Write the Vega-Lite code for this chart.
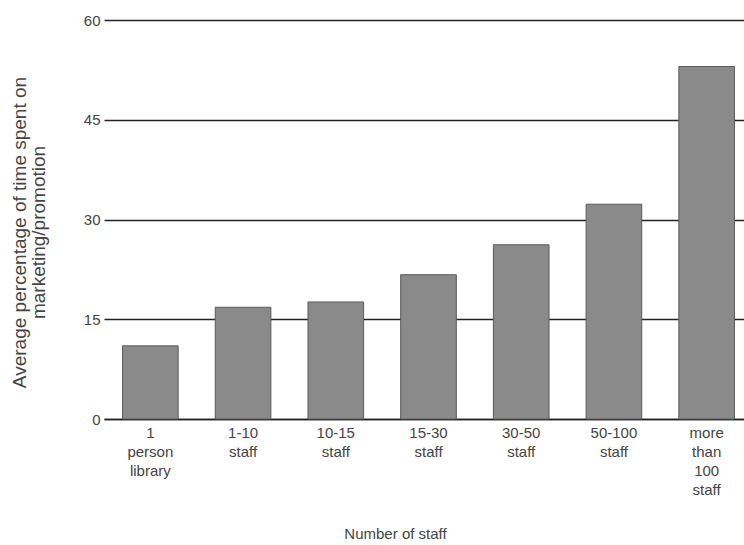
{
  "$schema": "https://vega.github.io/schema/vega-lite/v6.json",
  "autosize": {"type": "none"},
  "padding": {"left": 104, "top": 20, "right": 0, "bottom": 126},
  "width": 649,
  "height": 399,
  "background": "white",
  "data": {
    "values": [
      {"staff": "1|person|library", "pct": 11.0},
      {"staff": "1-10|staff", "pct": 16.8},
      {"staff": "10-15|staff", "pct": 17.6},
      {"staff": "15-30|staff", "pct": 21.7},
      {"staff": "30-50|staff", "pct": 26.2},
      {"staff": "50-100|staff", "pct": 32.3},
      {"staff": "more|than|100|staff", "pct": 53.0}
    ]
  },
  "mark": {"type": "bar", "fill": "#8a8a8a", "stroke": "#5a5a5a", "strokeWidth": 1},
  "encoding": {
    "x": {
      "field": "staff",
      "type": "nominal",
      "sort": null,
      "scale": {"paddingInner": 0.4, "paddingOuter": 0.2},
      "axis": {
        "title": "Number of staff",
        "labelExpr": "split(datum.value, '|')",
        "labelAngle": 0,
        "labelFont": "Liberation Sans",
        "labelFontSize": 15,
        "labelColor": "#444",
        "labelLineHeight": 19,
        "labelPadding": 6,
        "labelBaseline": "top",
        "ticks": false,
        "domainColor": "#222",
        "domainWidth": 1.5,
        "titleFont": "Liberation Sans",
        "titleFontSize": 15,
        "titleFontWeight": "normal",
        "titleColor": "#444",
        "titleX": 291,
        "titleY": 107,
        "titleBaseline": "top",
        "grid": false
      }
    },
    "y": {
      "field": "pct",
      "type": "quantitative",
      "scale": {"domain": [0, 60], "nice": false},
      "axis": {
        "title": ["Average percentage of time spent on", "marketing/promotion"],
        "values": [0, 15, 30, 45, 60],
        "labelFont": "Liberation Sans",
        "labelFontSize": 15,
        "labelColor": "#444",
        "labelPadding": 4,
        "ticks": false,
        "domain": false,
        "grid": true,
        "gridColor": "#222",
        "gridWidth": 1.5,
        "titleFont": "Liberation Sans",
        "titleFontSize": 19,
        "titleFontWeight": "normal",
        "titleColor": "#444",
        "titleLineHeight": 19,
        "titleX": -85,
        "titleY": 212,
        "titleAngle": -90,
        "titleAlign": "center",
        "titleBaseline": "middle"
      }
    }
  },
  "config": {"view": {"stroke": null}, "axis": {"zindex": 0}}
}
